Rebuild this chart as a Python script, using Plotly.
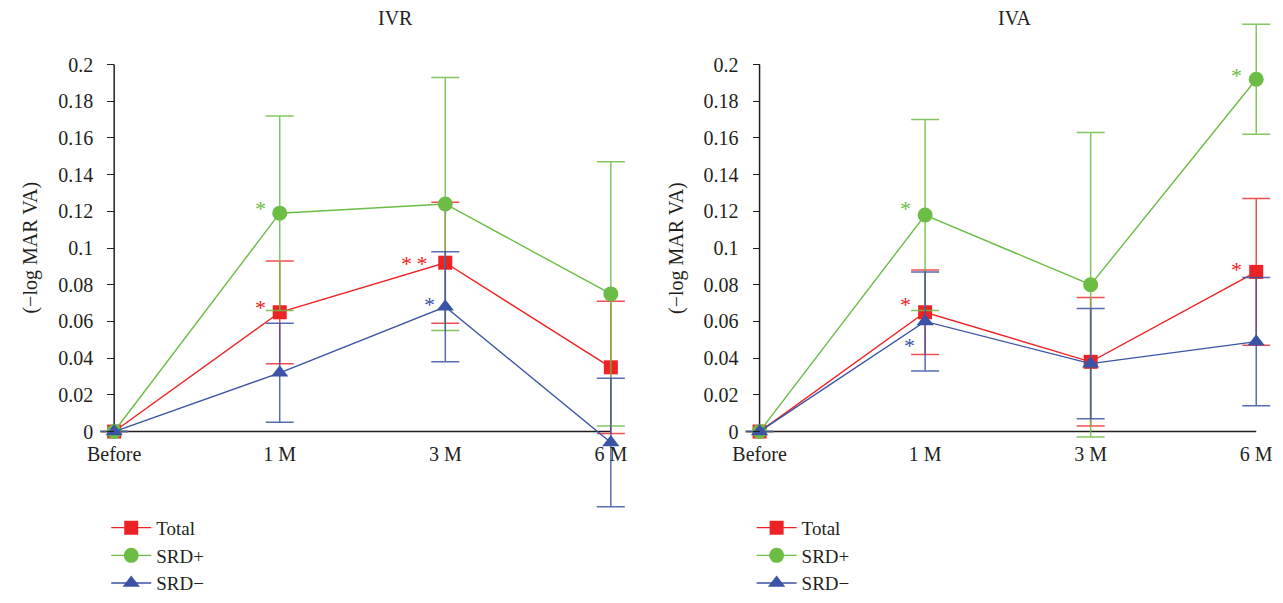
import plotly.graph_objects as go

# ---------------- data ----------------
categories = ["Before", "1 M", "3 M", "6 M"]
series_names = ["Total", "SRD+", "SRD−"]

ivr_total = [0, 0.065, 0.092, 0.035]
ivr_total_err = [0, 0.028, 0.033, 0.036]
ivr_srdp = [0, 0.119, 0.124, 0.075]
ivr_srdp_err = [0, 0.053, 0.069, 0.072]
ivr_srdm = [0, 0.032, 0.068, -0.006]
ivr_srdm_err = [0, 0.027, 0.030, 0.035]

iva_total = [0, 0.065, 0.038, 0.087]
iva_total_err = [0, 0.023, 0.035, 0.040]
iva_srdp = [0, 0.118, 0.080, 0.192]
iva_srdp_err = [0, 0.052, 0.083, 0.030]
iva_srdm = [0, 0.060, 0.037, 0.049]
iva_srdm_err = [0, 0.027, 0.030, 0.035]

y_tick_values = [0, 0.02, 0.04, 0.06, 0.08, 0.1, 0.12, 0.14, 0.16, 0.18, 0.2]
y_tick_labels = ["0", "0.02", "0.04", "0.06", "0.08", "0.1", "0.12", "0.14", "0.16", "0.18", "0.2"]

panel_titles = ["IVR", "IVA"]
y_title = "(−log MAR VA)"

# significance marks: (series name, category index, label)
ivr_marks = [("SRD+", 1, "*"), ("Total", 1, "*"), ("Total", 2, "*\u2009*"), ("SRD−", 2, "*")]
iva_marks = [("SRD+", 1, "*"), ("Total", 1, "*"), ("SRD−", 1, "*"), ("SRD+", 3, "*"), ("Total", 3, "*")]

# ---------------- style / layout ----------------
PAGE_OFF = 8                      # default body margin of the written html page
W, H = 1283 - PAGE_OFF, 603 - PAGE_OFF
FONT = "Liberation Serif"
TXT = "#231f20"
colors = {"Total": "#ed2224", "SRD+": "#6cbd45", "SRD−": "#3a53a4"}
err_colors = {"Total": "rgba(237,34,36,0.8)", "SRD+": "rgba(108,189,69,0.85)", "SRD−": "rgba(58,83,164,0.85)"}
symbols = {"Total": "square", "SRD+": "circle", "SRD−": "triangle-up"}
msize = {"Total": 14, "SRD+": 15, "SRD−": 15}


def fx(px):
    return (px - PAGE_OFF) / W


def fy(py):
    return 1 - (py - PAGE_OFF) / H


# pixel anchors (screen pixels of the reference)
y0_px, y02_px = 441, 65.8          # y=0 and y=0.2
px_per_unit_y = (y0_px - y02_px) / 0.2
yr = [-0.05, 0.23]
y_top_px = y0_px - yr[1] * px_per_unit_y
y_bot_px = y0_px - yr[0] * px_per_unit_y
ydomain = [fy(y_bot_px), fy(y_top_px)]

cat_step = 167.0
xr = [-0.1, 3.12]
before_px = [104, 755]
xdomains = [[fx(b + xr[0] * cat_step), fx(b + xr[1] * cat_step)] for b in before_px]

mark_offsets = {
    ("IVR", "SRD+", 1): (-12, 5), ("IVR", "Total", 1): (-12, 5), ("IVR", "Total", 2): (-16, -1),
    ("IVR", "SRD−", 2): (-8, 2),
    ("IVA", "SRD+", 1): (-12, 7), ("IVA", "Total", 1): (-12, 8), ("IVA", "SRD−", 1): (-8, -24),
    ("IVA", "SRD+", 3): (-12, 4), ("IVA", "Total", 3): (-12, 2),
}

panels = [
    ("IVR", {"Total": (ivr_total, ivr_total_err), "SRD+": (ivr_srdp, ivr_srdp_err), "SRD−": (ivr_srdm, ivr_srdm_err)}, ivr_marks),
    ("IVA", {"Total": (iva_total, iva_total_err), "SRD+": (iva_srdp, iva_srdp_err), "SRD−": (iva_srdm, iva_srdm_err)}, iva_marks),
]

fig = go.Figure()
annotations = []
shapes = []
for i, (pname, data, marks) in enumerate(panels):
    xa = "x" if i == 0 else "x2"
    ya = "y" if i == 0 else "y2"
    leg = "legend" if i == 0 else "legend2"
    for name in series_names:
        vals, errs = data[name]
        fig.add_trace(go.Scatter(
            x=categories, y=vals, mode="lines+markers", name=name,
            xaxis=xa, yaxis=ya, legend=leg, cliponaxis=False,
            line=dict(color=colors[name], width=1.4),
            marker=dict(symbol=symbols[name], size=msize[name], color=colors[name], line=dict(width=0)),
            error_y=dict(type="data", array=errs, visible=True, color=err_colors[name], thickness=1.5, width=14),
        ))
    for (sname, idx, label) in marks:
        dx, dy = mark_offsets[(pname, sname, idx)]
        annotations.append(dict(
            x=categories[idx], y=data[sname][0][idx], xref=xa, yref=ya, text=label, showarrow=False,
            xanchor="right", yanchor="middle", xshift=dx, yshift=dy,
            font=dict(family=FONT, size=22, color=colors[sname]),
        ))
    # axis lines
    shapes.append(dict(type="line", xref=xa, yref=ya, x0=-0.08, x1=3.0, y0=0, y1=0,
                       line=dict(color="#231f20", width=1.5), layer="below"))
    shapes.append(dict(type="line", xref=xa, yref=ya, x0=0, x1=0, y0=0, y1=0.2,
                       line=dict(color="#231f20", width=1.5), layer="below"))
    # panel title
    cx = [388, 1013][i]
    annotations.append(dict(x=fx(cx), y=fy(18), xref="paper", yref="paper", text=pname, showarrow=False,
                            xanchor="center", yanchor="middle", font=dict(family=FONT, size=20, color=TXT)))
    # y title
    tx = [20, 671][i]
    annotations.append(dict(x=fx(tx), y=fy(253), xref="paper", yref="paper", text=y_title, showarrow=False,
                            textangle=-90, xanchor="center", yanchor="middle",
                            font=dict(family=FONT, size=20, color=TXT)))

axis_common_x = dict(type="category", range=xr, showgrid=False, zeroline=False, showline=False, ticks="",
                     anchor="free", position=fy(y0_px), tickfont=dict(family=FONT, size=20, color=TXT),
                     ticklabelstandoff=8, fixedrange=True)
axis_common_y = dict(range=yr, domain=ydomain, showgrid=False, zeroline=False, showline=False,
                     ticks="outside", ticklen=7, tickwidth=1.2, tickcolor="#231f20",
                     tickvals=y_tick_values, ticktext=y_tick_labels, anchor="free",
                     tickfont=dict(family=FONT, size=20, color=TXT), ticklabelstandoff=10, fixedrange=True)

legend_common = dict(font=dict(family=FONT, size=19, color=TXT), bgcolor="rgba(0,0,0,0)",
                     xanchor="left", yanchor="top", itemwidth=40, tracegroupgap=0)

fig.update_layout(
    width=W, height=H, margin=dict(l=0, r=0, t=0, b=0),
    paper_bgcolor="white", plot_bgcolor="white",
    font=dict(family=FONT, color=TXT),
    xaxis=dict(axis_common_x, domain=xdomains[0]),
    xaxis2=dict(axis_common_x, domain=xdomains[1]),
    yaxis=dict(axis_common_y, position=fx(before_px[0])),
    yaxis2=dict(axis_common_y, position=fx(before_px[1])),
    legend=dict(legend_common, x=fx(96), y=fy(520)),
    legend2=dict(legend_common, x=fx(747), y=fy(520)),
    annotations=annotations, shapes=shapes, showlegend=True,
)

fig.write_html("out.html")
